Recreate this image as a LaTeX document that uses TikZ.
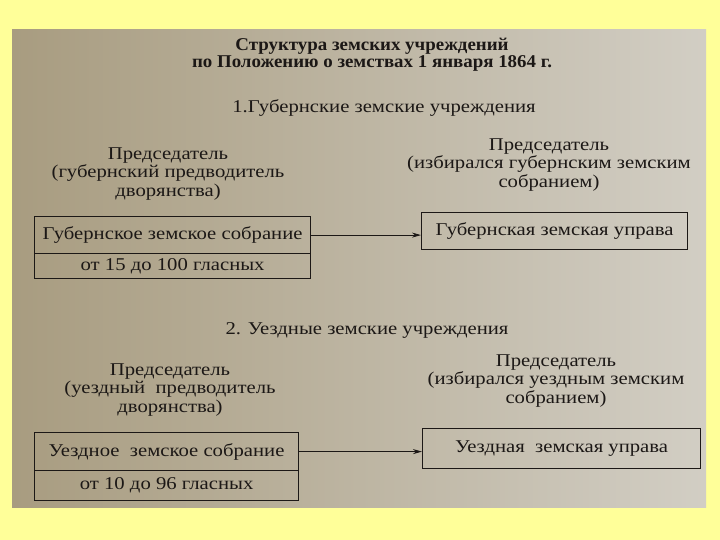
\documentclass[tikz,border=0pt]{standalone}
\usepackage{fontspec}
\setmainfont[FakeStretch=1.15]{Liberation Serif}
\newfontfamily\titlefont[FakeStretch=1.05]{Liberation Serif}
\usetikzlibrary{arrows.meta}
\definecolor{bgyellow}{HTML}{FFFF99}
\definecolor{paperL}{HTML}{A89C80}
\definecolor{paperR}{HTML}{D2CEC4}
\definecolor{ink}{HTML}{1C1816}
\begin{document}
\begin{tikzpicture}[x=1pt,y=-1pt,
  txt/.style={text=ink,font=\fontsize{18}{18.5}\selectfont,align=center,inner sep=0pt},
  ttl/.style={text=ink,font=\titlefont\bfseries\fontsize{18}{17}\selectfont,align=center,inner sep=0pt},
  cell/.style={draw=ink,line width=1.2pt,text=ink,font=\fontsize{18}{18.5}\selectfont,inner sep=0pt,anchor=north west},
  conn/.style={draw=ink,line width=0.8pt,-{Stealth[length=9pt,width=5pt]}}]
\useasboundingbox (0,0) rectangle (720,540);
\fill[bgyellow] (0,0) rectangle (720,540);
\shade[left color=paperL,right color=paperR] (12,30) rectangle (706,507);

\node[ttl] (title) at (372,55) {Структура земских учреждений\\по Положению о земствах 1 января 1864 г.};
\node[txt] (sec1) at (384,108) {1.Губернские земские учреждения};

\node[txt] (ch1l) at (168,174) {Председатель\\(губернский предводитель\\дворянства)};
\node[txt] (ch1r) at (549,165) {Председатель\\(избирался губернским земским\\собранием)};

\node[cell,minimum width=276pt,minimum height=37pt] (gs) at (34,216) {Губернское земское собрание};
\node[cell,minimum width=276pt,minimum height=25pt] (gsn) at (34,253) {от 15 до 100 гласных};
\node[cell,minimum width=266pt,minimum height=37pt] (gu) at (421,212) {Губернская земская управа};
\draw[conn] (gs.east) -- (gu.west |- gs.east);

\node[txt] (sec2) at (367,330) {2. Уездные земские учреждения};

\node[txt] (ch2l) at (170,390) {Председатель\\(уездный\ \ предводитель\\дворянства)};
\node[txt] (ch2r) at (556,381) {Председатель\\(избирался уездным земским\\собранием)};

\node[cell,minimum width=264pt,minimum height=38pt] (us) at (34,432) {Уездное\ \ земское собрание};
\node[cell,minimum width=264pt,minimum height=30pt] (usn) at (34,470) {от 10 до 96 гласных};
\node[cell,minimum width=278pt,minimum height=40pt] (uu) at (422,428) {Уездная\ \ земская управа};
\draw[conn] (us.east) -- (uu.west |- us.east);
\end{tikzpicture}
\end{document}
